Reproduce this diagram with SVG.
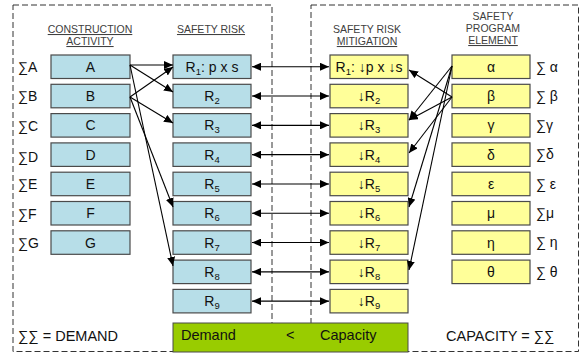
<svg xmlns="http://www.w3.org/2000/svg" width="581" height="355" viewBox="0 0 581 355">
<style>
text{font-family:"Liberation Sans",Arial,sans-serif;fill:#111}
.hd{font-size:10.5px;fill:#404040;text-anchor:middle}
.u{text-decoration:underline}
.bx{font-size:14px;text-anchor:middle}
.sg{font-size:14px}
.big{font-size:14.5px}
.sub{font-size:9.5px}
.blue rect{fill:#B7DEE8;stroke:#4a4a4a;stroke-width:1.2}
.yel rect{fill:#FFFF99;stroke:#4a4a4a;stroke-width:1.2}
.dash{fill:none;stroke:#333;stroke-width:1;stroke-dasharray:6,3}
.c line{stroke:#000;stroke-width:1.1}
.c .d{marker-end:url(#ah)}
.c .b{marker-start:url(#ah);marker-end:url(#ah)}
</style>
<defs>
<marker id="ah" markerUnits="userSpaceOnUse" markerWidth="10" markerHeight="8" refX="9" refY="4" orient="auto-start-reverse">
<path d="M0,0 L9,4 L0,8 z" fill="#000"/>
</marker>
</defs>
<rect width="581" height="355" fill="#fff"/>
<g id="frames">
<rect class="dash" x="13" y="5" width="259" height="346.5"/>
<rect class="dash" x="311" y="5" width="267.5" height="346.5"/>
</g>
<g id="headers">
<text class="hd u" x="90" y="33">CONSTRUCTION</text>
<text class="hd u" x="90" y="45">ACTIVITY</text>
<text class="hd u" x="211" y="33">SAFETY RISK</text>
<text class="hd" x="367" y="33">SAFETY RISK</text>
<text class="hd u" x="367" y="45">MITIGATION</text>
<text class="hd" x="493" y="20">SAFETY</text>
<text class="hd" x="493" y="32">PROGRAM</text>
<text class="hd u" x="493" y="44">ELEMENT</text>
</g>
<g id="activity" class="blue">
<g id="act-A"><rect x="51" y="55" width="79" height="23.5"/><text class="bx" x="90.5" y="71.8">A</text><text class="sg" x="18" y="72">∑A</text></g>
<g id="act-B"><rect x="51" y="84.3" width="79" height="23.5"/><text class="bx" x="90.5" y="101.1">B</text><text class="sg" x="18" y="101.3">∑B</text></g>
<g id="act-C"><rect x="51" y="113.6" width="79" height="23.5"/><text class="bx" x="90.5" y="130.4">C</text><text class="sg" x="18" y="130.6">∑C</text></g>
<g id="act-D"><rect x="51" y="142.9" width="79" height="23.5"/><text class="bx" x="90.5" y="159.7">D</text><text class="sg" x="18" y="161.5">∑D</text></g>
<g id="act-E"><rect x="51" y="172.2" width="79" height="23.5"/><text class="bx" x="90.5" y="189">E</text><text class="sg" x="18" y="189.2">∑E</text></g>
<g id="act-F"><rect x="51" y="201.5" width="79" height="23.5"/><text class="bx" x="90.5" y="218.3">F</text><text class="sg" x="18" y="218.5">∑F</text></g>
<g id="act-G"><rect x="51" y="230.8" width="79" height="23.5"/><text class="bx" x="90.5" y="247.6">G</text><text class="sg" x="18" y="247.8">∑G</text></g>
</g>
<g id="risk" class="blue">
<g id="R1"><rect x="173" y="55" width="78" height="23.5"/><text class="bx" x="212" y="71.8">R<tspan class="sub" dy="3">1</tspan><tspan dy="-3">: p x s</tspan></text></g>
<g id="R2"><rect x="173" y="84.3" width="78" height="23.5"/><text class="bx" x="212" y="101.1">R<tspan class="sub" dy="3">2</tspan></text></g>
<g id="R3"><rect x="173" y="113.6" width="78" height="23.5"/><text class="bx" x="212" y="130.4">R<tspan class="sub" dy="3">3</tspan></text></g>
<g id="R4"><rect x="173" y="142.9" width="78" height="23.5"/><text class="bx" x="212" y="159.7">R<tspan class="sub" dy="3">4</tspan></text></g>
<g id="R5"><rect x="173" y="172.2" width="78" height="23.5"/><text class="bx" x="212" y="189">R<tspan class="sub" dy="3">5</tspan></text></g>
<g id="R6"><rect x="173" y="201.5" width="78" height="23.5"/><text class="bx" x="212" y="218.3">R<tspan class="sub" dy="3">6</tspan></text></g>
<g id="R7"><rect x="173" y="230.8" width="78" height="23.5"/><text class="bx" x="212" y="247.6">R<tspan class="sub" dy="3">7</tspan></text></g>
<g id="R8"><rect x="173" y="260.1" width="78" height="23.5"/><text class="bx" x="212" y="276.9">R<tspan class="sub" dy="3">8</tspan></text></g>
<g id="R9"><rect x="173" y="289.4" width="78" height="23.5"/><text class="bx" x="212" y="306.2">R<tspan class="sub" dy="3">9</tspan></text></g>
</g>
<g id="mitigation" class="yel">
<g id="M1"><rect x="330" y="55" width="78" height="23.5"/><text class="bx" x="369" y="71.8">R<tspan class="sub" dy="3">1</tspan><tspan dy="-3">: ↓p x ↓s</tspan></text></g>
<g id="M2"><rect x="330" y="84.3" width="78" height="23.5"/><text class="bx" x="369" y="101.1">↓R<tspan class="sub" dy="3">2</tspan></text></g>
<g id="M3"><rect x="330" y="113.6" width="78" height="23.5"/><text class="bx" x="369" y="130.4">↓R<tspan class="sub" dy="3">3</tspan></text></g>
<g id="M4"><rect x="330" y="142.9" width="78" height="23.5"/><text class="bx" x="369" y="159.7">↓R<tspan class="sub" dy="3">4</tspan></text></g>
<g id="M5"><rect x="330" y="172.2" width="78" height="23.5"/><text class="bx" x="369" y="189">↓R<tspan class="sub" dy="3">5</tspan></text></g>
<g id="M6"><rect x="330" y="201.5" width="78" height="23.5"/><text class="bx" x="369" y="218.3">↓R<tspan class="sub" dy="3">6</tspan></text></g>
<g id="M7"><rect x="330" y="230.8" width="78" height="23.5"/><text class="bx" x="369" y="247.6">↓R<tspan class="sub" dy="3">7</tspan></text></g>
<g id="M8"><rect x="330" y="260.1" width="78" height="23.5"/><text class="bx" x="369" y="276.9">↓R<tspan class="sub" dy="3">8</tspan></text></g>
<g id="M9"><rect x="330" y="289.4" width="78" height="23.5"/><text class="bx" x="369" y="306.2">↓R<tspan class="sub" dy="3">9</tspan></text></g>
</g>
<g id="program" class="yel">
<g id="P-alpha"><rect x="452" y="55" width="78" height="23.5"/><text class="bx" x="491" y="71.8">α</text><text class="sg" x="536" y="71.5">∑ α</text></g>
<g id="P-beta"><rect x="452" y="84.3" width="78" height="23.5"/><text class="bx" x="491" y="101.1">β</text><text class="sg" x="536" y="100.8">∑ β</text></g>
<g id="P-gamma"><rect x="452" y="113.6" width="78" height="23.5"/><text class="bx" x="491" y="130.4">γ</text><text class="sg" x="536" y="130.1">∑γ</text></g>
<g id="P-delta"><rect x="452" y="142.9" width="78" height="23.5"/><text class="bx" x="491" y="159.7">δ</text><text class="sg" x="536" y="159.4">∑δ</text></g>
<g id="P-eps"><rect x="452" y="172.2" width="78" height="23.5"/><text class="bx" x="491" y="189">ε</text><text class="sg" x="536" y="188.7">∑ ε</text></g>
<g id="P-mu"><rect x="452" y="201.5" width="78" height="23.5"/><text class="bx" x="491" y="218.3">μ</text><text class="sg" x="536" y="218">∑μ</text></g>
<g id="P-eta"><rect x="452" y="230.8" width="78" height="23.5"/><text class="bx" x="491" y="247.6">η</text><text class="sg" x="536" y="247.3">∑ η</text></g>
<g id="P-theta"><rect x="452" y="260.1" width="78" height="23.5"/><text class="bx" x="491" y="276.9">θ</text><text class="sg" x="536" y="276.6">∑ θ</text></g>
</g>
<g id="balance">
<rect x="173" y="323" width="235" height="29" fill="#99CC00" stroke="#4a4a4a" stroke-width="1"/>
<text class="big" x="181" y="340">Demand</text>
<text class="big" x="286" y="340">&lt;</text>
<text class="big" x="320" y="340">Capacity</text>
</g>
<g id="totals">
<text class="big" x="18" y="341">∑∑ = DEMAND</text>
<text class="big" x="446" y="341">CAPACITY = ∑∑</text>
</g>
<g id="connectors" class="c">
<line class="d" x1="130" y1="65" x2="173" y2="65"/>
<line class="d" x1="130" y1="65" x2="173" y2="92"/>
<line class="d" x1="130" y1="97" x2="173" y2="67"/>
<line class="d" x1="130" y1="97" x2="173" y2="123"/>
<line class="d" x1="130" y1="65" x2="173" y2="266"/>
<line class="d" x1="130" y1="97" x2="173" y2="207"/>
<line class="b" x1="252" y1="66.75" x2="329" y2="66.75"/>
<line class="b" x1="252" y1="96.05" x2="329" y2="96.05"/>
<line class="b" x1="252" y1="125.35" x2="329" y2="125.35"/>
<line class="b" x1="252" y1="154.65" x2="329" y2="154.65"/>
<line class="b" x1="252" y1="183.95" x2="329" y2="183.95"/>
<line class="b" x1="252" y1="213.25" x2="329" y2="213.25"/>
<line class="b" x1="252" y1="242.55" x2="329" y2="242.55"/>
<line class="b" x1="252" y1="271.85" x2="329" y2="271.85"/>
<line class="b" x1="252" y1="301.15" x2="329" y2="301.15"/>
<line class="d" x1="452" y1="97" x2="409" y2="70"/>
<line class="d" x1="452" y1="66" x2="409" y2="120"/>
<line class="d" x1="452" y1="97" x2="409" y2="120"/>
<line class="d" x1="452" y1="97" x2="409" y2="153"/>
<line class="d" x1="452" y1="66" x2="409" y2="207"/>
<line class="d" x1="452" y1="66" x2="409" y2="270"/>
</g>
</svg>
